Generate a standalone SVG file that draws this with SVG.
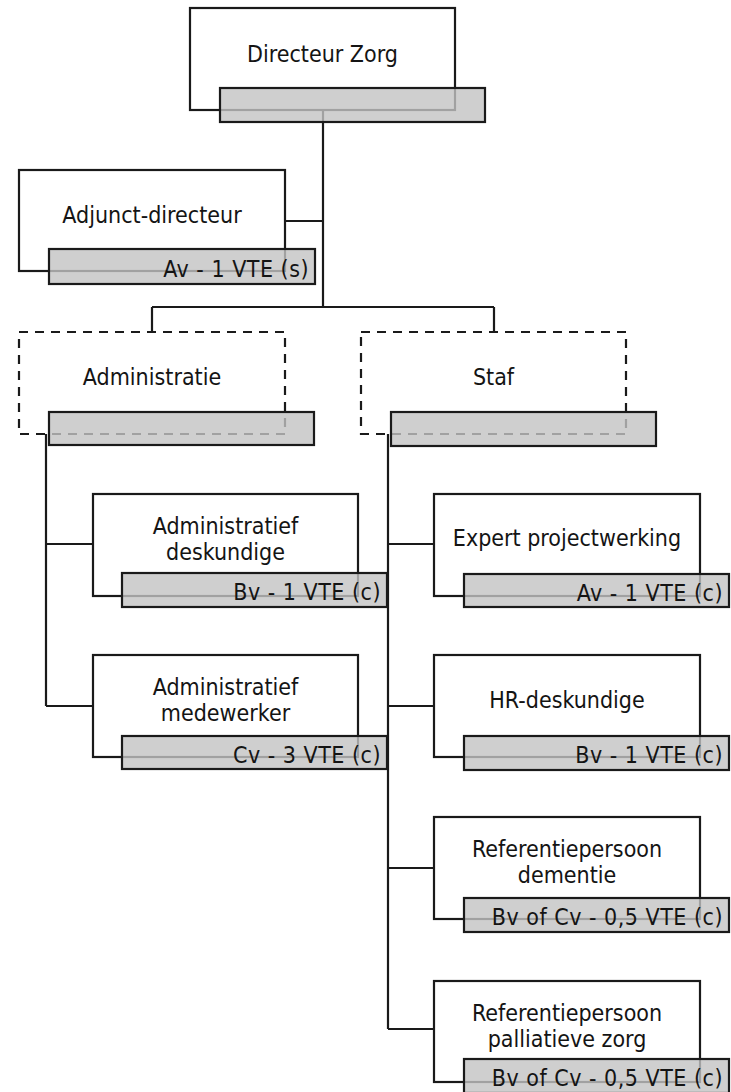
<svg xmlns="http://www.w3.org/2000/svg" width="731" height="1092" viewBox="0 0 731 1092">
  <style>
    .box { fill: #ffffff; stroke: #1a1a1a; stroke-width: 2.2; }
    .dash { fill: #ffffff; stroke: #1a1a1a; stroke-width: 2.2; stroke-dasharray: 9 7; }
    .bar { fill: #c3c3c3; fill-opacity: 0.8; stroke: #1a1a1a; stroke-width: 2.2; }
    .conn { fill: none; stroke: #1a1a1a; stroke-width: 2.2; }
    text { font-family: 'DejaVu Sans Condensed', 'DejaVu Sans', sans-serif; font-stretch: condensed; font-size: 23px; fill: #141414; }
    .name { text-anchor: middle; }
    .grade { text-anchor: end; letter-spacing: 0.5px; }
  </style>

  <!-- reporting lines, drawn beneath the boxes -->
  <g id="connectors">
    <path class="conn" d="M323 110 V307"/>
    <path class="conn" d="M285 221 H323"/>
    <path class="conn" d="M152 307 H494 M152 307 V332 M494 307 V332"/>
    <path class="conn" d="M46 434 V706 M46 544 H93 M46 706 H93"/>
    <path class="conn" d="M388 434 V1029 M388 544 H434 M388 706 H434 M388 868 H434 M388 1029 H434"/>
  </g>

  <g id="directeur-zorg">
    <rect class="box" x="190" y="8" width="265" height="102"/>
    <rect class="bar" x="220" y="88" width="265" height="34"/>
    <text class="name" x="322.5" y="62">Directeur Zorg</text>
  </g>

  <g id="adjunct-directeur">
    <rect class="box" x="19" y="170" width="266" height="101"/>
    <rect class="bar" x="49" y="249" width="266" height="35"/>
    <text class="name" x="152" y="223">Adjunct-directeur</text>
    <text class="grade" x="309" y="277">Av - 1 VTE (s)</text>
  </g>

  <g id="administratie">
    <rect class="dash" x="19" y="332" width="266" height="102"/>
    <rect class="bar" x="49" y="412" width="265" height="33"/>
    <text class="name" x="152" y="385">Administratie</text>
  </g>

  <g id="staf">
    <rect class="dash" x="361" y="332" width="265" height="102"/>
    <rect class="bar" x="391" y="412" width="265" height="34"/>
    <text class="name" x="493.5" y="385">Staf</text>
  </g>

  <g id="administratief-deskundige">
    <rect class="box" x="93" y="494" width="265" height="102"/>
    <rect class="bar" x="122" y="573" width="265" height="34"/>
    <text class="name" x="225.5" y="534">Administratief</text>
    <text class="name" x="225.5" y="560">deskundige</text>
    <text class="grade" x="381" y="600">Bv - 1 VTE (c)</text>
  </g>

  <g id="expert-projectwerking">
    <rect class="box" x="434" y="494" width="266" height="102"/>
    <rect class="bar" x="464" y="574" width="265" height="33"/>
    <text class="name" x="567" y="546">Expert projectwerking</text>
    <text class="grade" x="723" y="601">Av - 1 VTE (c)</text>
  </g>

  <g id="administratief-medewerker">
    <rect class="box" x="93" y="655" width="265" height="102"/>
    <rect class="bar" x="122" y="736" width="265" height="33"/>
    <text class="name" x="225.5" y="695">Administratief</text>
    <text class="name" x="225.5" y="721">medewerker</text>
    <text class="grade" x="381" y="763">Cv - 3 VTE (c)</text>
  </g>

  <g id="hr-deskundige">
    <rect class="box" x="434" y="655" width="266" height="102"/>
    <rect class="bar" x="464" y="736" width="265" height="34"/>
    <text class="name" x="567" y="708">HR-deskundige</text>
    <text class="grade" x="723" y="763">Bv - 1 VTE (c)</text>
  </g>

  <g id="referentiepersoon-dementie">
    <rect class="box" x="434" y="817" width="266" height="102"/>
    <rect class="bar" x="464" y="898" width="265" height="34"/>
    <text class="name" x="567" y="857">Referentiepersoon</text>
    <text class="name" x="567" y="883">dementie</text>
    <text class="grade" x="723" y="925">Bv of Cv - 0,5 VTE (c)</text>
  </g>

  <g id="referentiepersoon-palliatieve-zorg">
    <rect class="box" x="434" y="981" width="266" height="101"/>
    <rect class="bar" x="464" y="1059" width="265" height="34"/>
    <text class="name" x="567" y="1021">Referentiepersoon</text>
    <text class="name" x="567" y="1047">palliatieve zorg</text>
    <text class="grade" x="723" y="1086">Bv of Cv - 0,5 VTE (c)</text>
  </g>
</svg>
